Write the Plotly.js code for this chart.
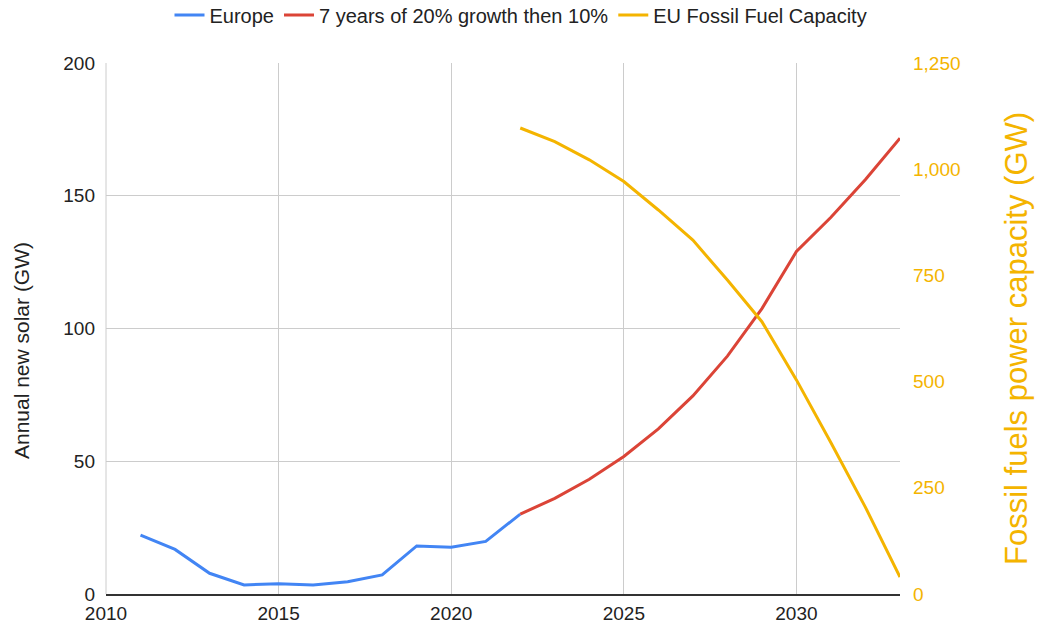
<!DOCTYPE html>
<html>
<head>
<meta charset="utf-8">
<script src="https://cdn.plot.ly/plotly-3.0.1.min.js"></script>
<style>html,body{margin:0;padding:0;background:#fff;}#chart{width:1042px;height:628px;}</style>
</head>
<body>
<div id="chart"></div>
<script>
const europeYears = [2011,2012,2013,2014,2015,2016,2017,2018,2019,2020,2021,2022];
const europeSolar = [22.2,16.8,7.8,3.4,3.9,3.4,4.6,7.2,18.1,17.6,19.8,30.1];

const projYears = [2022,2023,2024,2025,2026,2027,2028,2029,2030,2031,2032,2033];
const projSolar = [30.1,36,43.2,51.8,62.2,74.6,89.6,107.5,129,141.9,156.1,171.7];

const fossilYears = [2022,2023,2024,2025,2026,2027,2028,2029,2030,2031,2032,2033];
const fossilCapacity = [1097,1065,1022,971,904,833,739,641,504,356,204,40];

const xTicks = [2010,2015,2020,2025,2030];
const yTicks = [0,50,100,150,200];
const y2Ticks = [0,250,500,750,1000,1250];

const leftTitle = 'Annual new solar (GW)';
const rightTitle = 'Fossil fuels power capacity (GW)';

const blue = '#4285f4', red = '#db4437', yellow = '#f4b400';
const FONT = 'Arial, "Liberation Sans", sans-serif';

const traces = [
  {x: europeYears, y: europeSolar, name: 'Europe', type: 'scatter', mode: 'lines',
   line: {color: blue, width: 3}},
  {x: projYears, y: projSolar, name: '7 years of 20% growth then 10%', type: 'scatter', mode: 'lines',
   line: {color: red, width: 3}},
  {x: fossilYears, y: fossilCapacity, name: 'EU Fossil Fuel Capacity', type: 'scatter', mode: 'lines',
   yaxis: 'y2', line: {color: yellow, width: 3}}
];

const layout = {
  width: 1042, height: 628,
  margin: {l: 106, r: 142, t: 63, b: 34},
  paper_bgcolor: '#fff', plot_bgcolor: '#fff',
  font: {family: FONT, color: '#222', size: 19},
  showlegend: true,
  legend: {orientation: 'h', xref: 'container', yref: 'container',
           x: 0.5, xanchor: 'center', y: 0.976, yanchor: 'middle',
           font: {size: 20, color: '#222', family: FONT}, itemwidth: 30, tracegroupgap: 0},
  xaxis: {range: [2010, 2033], tickvals: xTicks, ticktext: xTicks.map(String),
          showgrid: true, gridcolor: '#cccccc', gridwidth: 1, zeroline: false,
          showline: true, linecolor: '#333', linewidth: 1.5, ticks: '', ticklabelstandoff: 2,
          tickfont: {size: 19, color: '#222'}, fixedrange: true},
  yaxis: {range: [0, 200], tickvals: yTicks, showgrid: true, gridcolor: '#cccccc', gridwidth: 1,
          zeroline: false, showline: false, ticks: '', ticklabelstandoff: 10,
          tickfont: {size: 19, color: '#222'}},
  yaxis2: {range: [0, 1250], tickvals: y2Ticks, tickformat: ',d', overlaying: 'y', side: 'right',
           showgrid: false, zeroline: false, showline: false, ticks: '', ticklabelstandoff: 12,
           tickfont: {size: 19, color: yellow}},
  annotations: [
    {text: leftTitle, xref: 'paper', yref: 'paper', x: -0.107, y: 0.4576,
     xanchor: 'center', yanchor: 'middle', textangle: -90, showarrow: false,
     font: {size: 21, color: '#222', family: FONT}},
    {text: rightTitle, xref: 'paper', yref: 'paper', x: 1.146, y: 0.482,
     xanchor: 'center', yanchor: 'middle', textangle: -90, showarrow: false,
     font: {size: 31, color: yellow, family: FONT}}
  ],
  shapes: [
    {type: 'line', xref: 'paper', yref: 'paper', x0: 0, x1: 0, y0: 0, y1: 1,
     line: {color: '#cccccc', width: 1}, layer: 'below'}
  ]
};

Plotly.newPlot('chart', traces, layout, {displayModeBar: false, staticPlot: true});
</script>
</body>
</html>
